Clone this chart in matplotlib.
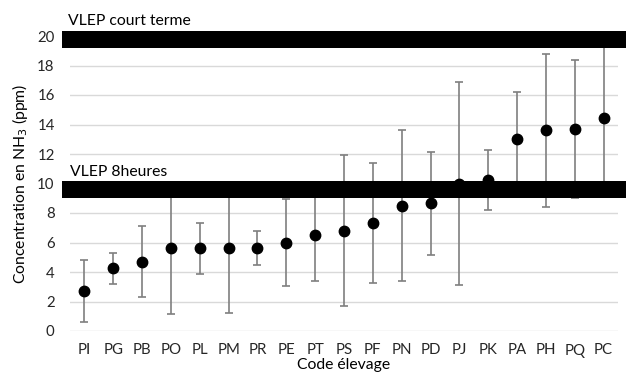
import matplotlib.pyplot as plt
from matplotlib.patches import Rectangle
import matplotlib.transforms as mtransforms

codes = ['PI', 'PG', 'PB', 'PO', 'PL', 'PM', 'PR', 'PE', 'PT', 'PS',
         'PF', 'PN', 'PD', 'PJ', 'PK', 'PA', 'PH', 'PQ', 'PC']
moyennes = [2.7, 4.25, 4.7, 5.6, 5.6, 5.6, 5.65, 6.0, 6.5, 6.8,
            7.3, 8.5, 8.65, 10.0, 10.25, 13.0, 13.6, 13.7, 14.45]
ecarts = [2.1, 1.05, 2.4, 4.45, 1.75, 4.35, 1.15, 2.95, 3.1, 5.1,
          4.07, 5.1, 3.5, 6.87, 2.05, 3.2, 5.17, 4.7, 5.0]

vlep_8h = (9.02, 10.17)
vlep_ct = (19.2, 20.35)

plt.rcParams['font.family'] = ['Lato', 'DejaVu Sans']

fig = plt.figure(figsize=(6.28, 3.79), dpi=100)
ax = fig.add_axes([70 / 628, 1 - 331 / 379, 548 / 628, 295 / 379])

x = list(range(len(codes)))
ax.errorbar(x, moyennes, yerr=ecarts, fmt='o', color='black', ms=7.5,
            ecolor='#7f7f7f', elinewidth=1.2, capsize=3, capthick=1.2, zorder=3)

# bandes noires des VLEP, un peu plus larges que la zone de tracé
trans = mtransforms.blended_transform_factory(ax.transAxes, ax.transData)
for bas, haut in [vlep_8h, vlep_ct]:
    ax.add_patch(Rectangle((-0.0146, bas), 1.0292, haut - bas, transform=trans,
                           facecolor='black', edgecolor='none', clip_on=False, zorder=5))

ax.text(-0.003, vlep_ct[1] + 0.2, 'VLEP court terme', transform=trans,
        fontsize=11.3, va='bottom', ha='left')
ax.text(0.0, vlep_8h[1] + 0.15, 'VLEP 8heures', transform=trans,
        fontsize=11.3, va='bottom', ha='left')

ax.set_xlim(-0.5, len(codes) - 0.5)
ax.set_ylim(0, 20)
ax.set_yticks(range(0, 21, 2))
ax.set_xticks(x)
ax.set_xticklabels(codes)
ax.grid(axis='y', color='#d9d9d9', linewidth=1)
ax.set_axisbelow(True)
for s in ax.spines.values():
    s.set_visible(False)
ax.tick_params(axis='both', length=0, labelsize=10.8, colors='#262626')
ax.tick_params(axis='x', pad=9)
ax.tick_params(axis='y', pad=11)

ax.set_xlabel('Code élevage', fontsize=11.3, labelpad=0)
ax.set_ylabel('Concentration en NH$_3$ (ppm)', fontsize=11.3, labelpad=5)

fig.savefig('out.png', dpi=100)
